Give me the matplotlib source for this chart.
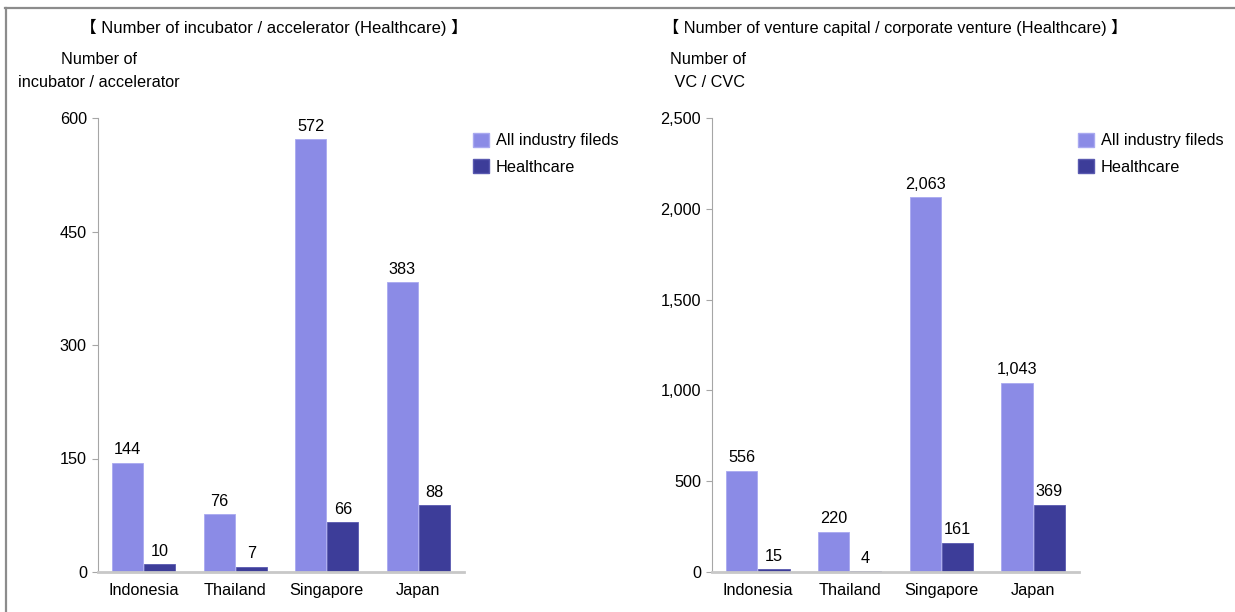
import numpy as np
import matplotlib.pyplot as plt
from matplotlib.lines import Line2D
from matplotlib.patches import Patch

countries = ["Indonesia", "Thailand", "Singapore", "Japan"]
series_names = ["All industry fileds", "Healthcare"]

incubator_all = [144, 76, 572, 383]
incubator_health = [10, 7, 66, 88]

vc_all = [556, 220, 2063, 1043]
vc_health = [15, 4, 161, 369]

light = "#8b8be6"
dark = "#3d3d99"
fonts = ["Liberation Sans", "Noto Sans CJK JP", "DejaVu Sans"]
plt.rcParams["font.family"] = fonts
fs = 11.7

fig = plt.figure(figsize=(12.35, 6.12), dpi=100)
W, H = 1235, 612


def px_axes(x0, y0, x1, y1):
    return fig.add_axes([x0 / W, 1 - y1 / H, (x1 - x0) / W, (y1 - y0) / H])


def draw_panel(ax, all_vals, health_vals, ymax, step, fmt):
    x = np.arange(len(countries))
    w = 0.34
    b1 = ax.bar(x - 0.175, all_vals, w, color=light, edgecolor="#a9a9f0", linewidth=0.6)
    b2 = ax.bar(x + 0.175, health_vals, w, color=dark, edgecolor="#5a5ab0", linewidth=0.6)
    for bars, vals in ((b1, all_vals), (b2, health_vals)):
        for b, v in zip(bars, vals):
            ax.annotate(fmt(v), (b.get_x() + b.get_width() / 2, v),
                        xytext=(0, 4), textcoords="offset points",
                        ha="center", va="bottom", fontsize=fs)
    ax.set_xlim(-0.5, 3.5)
    ax.set_ylim(0, ymax)
    ticks = np.arange(0, ymax + 1, step)
    ax.set_yticks(ticks)
    ax.set_yticklabels([fmt(t) for t in ticks])
    ax.set_xticks(x)
    ax.set_xticklabels(countries)
    for s in ("top", "right"):
        ax.spines[s].set_visible(False)
    ax.spines["left"].set_color("#a6a6a6")
    ax.spines["left"].set_linewidth(0.8)
    ax.spines["bottom"].set_color("#c8c8c8")
    ax.spines["bottom"].set_linewidth(2)
    ax.tick_params(axis="y", length=4, color="#a6a6a6", pad=4, labelsize=fs)
    ax.tick_params(axis="x", length=0, pad=8, labelsize=fs)


ax1 = px_axes(98, 118, 464, 572)
draw_panel(ax1, incubator_all, incubator_health, 600, 150, lambda v: f"{int(v):,}")

ax2 = px_axes(712, 118, 1079, 572)
draw_panel(ax2, vc_all, vc_health, 2500, 500, lambda v: f"{int(v):,}")

handles = [Patch(facecolor=light, edgecolor="#a9a9f0"), Patch(facecolor=dark, edgecolor="#5a5ab0")]
for x0 in (466, 1071):
    fig.legend(handles, series_names, loc="upper left",
               bbox_to_anchor=(x0 / W, 1 - 126 / H), frameon=False,
               handlelength=1.0, handleheight=1.0, handletextpad=0.45,
               labelspacing=0.65, borderaxespad=0, fontsize=fs)

# titles and axis captions
fig.text(80 / W, 1 - 27 / H, "【 Number of incubator / accelerator (Healthcare) 】",
         ha="left", va="center", fontsize=12)
fig.text(663 / W, 1 - 27 / H, "【 Number of venture capital / corporate venture (Healthcare) 】",
         ha="left", va="center", fontsize=11.7)
fig.text(99 / W, 1 - 71 / H, "Number of\nincubator / accelerator",
         ha="center", va="center", fontsize=fs, linespacing=1.7, multialignment="center")
fig.text(670 / W, 1 - 71 / H, "Number of\n VC / CVC",
         ha="left", va="center", fontsize=fs, linespacing=1.7, multialignment="left")

# outer frame
fig.add_artist(Line2D([5 / W, 1], [1 - 8 / H, 1 - 8 / H], color="#8c8c8c", lw=1.6,
                      transform=fig.transFigure))
fig.add_artist(Line2D([6 / W, 6 / W], [0, 1 - 8 / H], color="#8c8c8c", lw=1.6,
                      transform=fig.transFigure))

fig.savefig("out.png", dpi=100, facecolor="white")
